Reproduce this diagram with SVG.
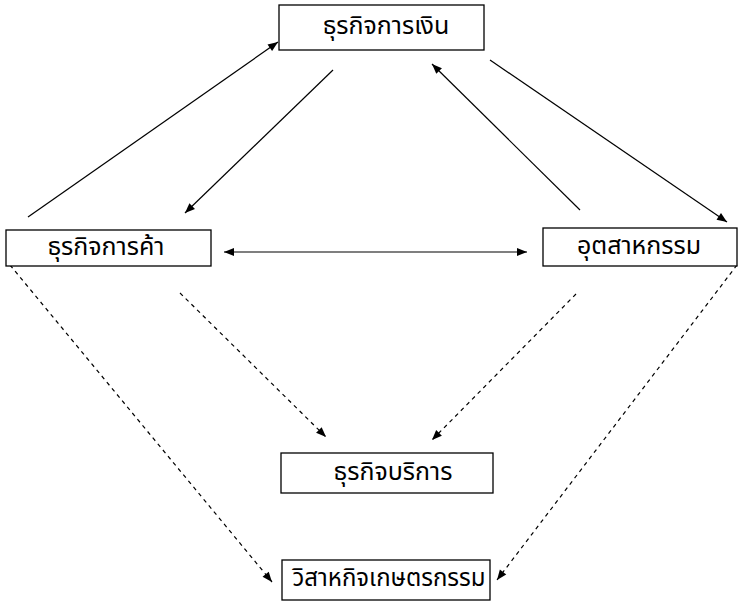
<svg xmlns="http://www.w3.org/2000/svg" width="744" height="607" viewBox="0 0 744 607">
<defs>
<marker id="ah" viewBox="0 0 10 10" refX="10" refY="5" markerWidth="11" markerHeight="10" markerUnits="userSpaceOnUse" orient="auto-start-reverse">
<path d="M0,1 L10,5 L0,9 z" fill="#000"/>
</marker>
<style>
.box{fill:#fff;stroke:#000;stroke-width:1.3}
.lbl{font-family:"Noto Sans Thai","Noto Sans","DejaVu Sans",sans-serif;font-size:25px;fill:#000;text-anchor:middle;dominant-baseline:central}
.c{stroke:#000;stroke-width:1.2;fill:none;marker-end:url(#ah)}
.d{stroke-dasharray:4,4}
</style>
</defs>
<rect width="744" height="607" fill="#fff"/>
<g id="connectors">
<line class="c" x1="28" y1="217" x2="278" y2="42"/>
<line class="c" x1="333" y1="70" x2="185" y2="213"/>
<line class="c" x1="580" y1="210" x2="432" y2="64"/>
<line class="c" x1="490" y1="60" x2="727" y2="222"/>
<line class="c" x1="224" y1="252" x2="527" y2="252" marker-start="url(#ah)"/>
<line class="c d" x1="10" y1="265" x2="272" y2="582"/>
<line class="c d" x1="180" y1="293" x2="326" y2="437"/>
<line class="c d" x1="576" y1="294" x2="432" y2="440"/>
<line class="c d" x1="737" y1="265" x2="497" y2="580"/>
</g>
<g id="n1"><rect class="box" x="279" y="5" width="205" height="45"/><text class="lbl" x="386" y="26">ธุรกิจการเงิน</text></g>
<g id="n2"><rect class="box" x="6" y="230" width="205" height="36"/><text class="lbl" x="106" y="247">ธุรกิจการค้า</text></g>
<g id="n3"><rect class="box" x="543" y="228" width="194" height="38"/><text class="lbl" x="639" y="246">อุตสาหกรรม</text></g>
<g id="n4"><rect class="box" x="281" y="453" width="212" height="40"/><text class="lbl" x="393" y="472">ธุรกิจบริการ</text></g>
<g id="n5"><rect class="box" x="282" y="560" width="208" height="40"/><text class="lbl" x="389" y="579" style="font-size:24px">วิสาหกิจเกษตรกรรม</text></g>
</svg>
